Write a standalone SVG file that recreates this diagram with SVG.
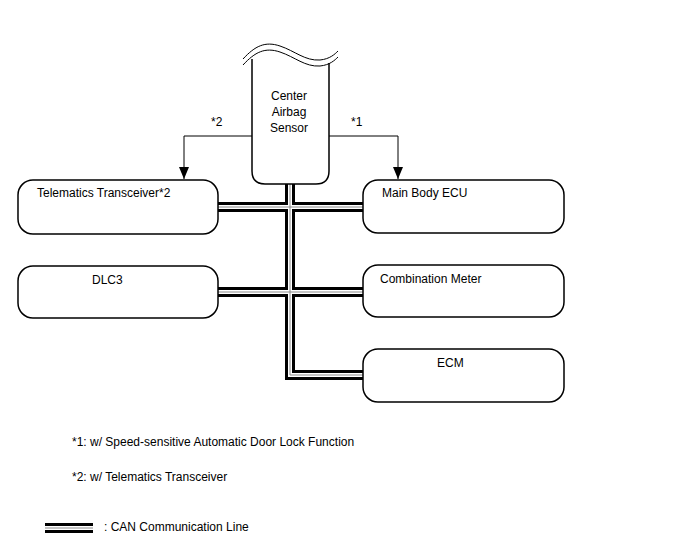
<svg xmlns="http://www.w3.org/2000/svg" width="688" height="560" viewBox="0 0 688 560">
<style>
.box{fill:#fff;stroke:#000;stroke-width:1.5}
.t{font-family:"Liberation Sans",Arial,sans-serif;font-size:12px;fill:#000}
.w1{fill:none;stroke:#000;stroke-width:10}
.w2{fill:none;stroke:#fff;stroke-width:4}
.w3{fill:none;stroke:#888;stroke-width:1}
.ln{fill:none;stroke:#000;stroke-width:1}
</style>
<defs>
<marker id="ah" markerWidth="12" markerHeight="10" refX="12" refY="5" orient="auto" markerUnits="userSpaceOnUse" viewBox="0 0 12 10">
<path d="M0,0 L12,5 L0,10 Z" fill="#000"/>
</marker>
</defs>
<rect width="688" height="560" fill="#fff"/>
<g id="connectors">
<path class="w1" d="M290,181 V375 H364 M217,207 H364 M217,292 H364"/>
<path class="w2" d="M290,181 V375 H364 M217,207 H364 M217,292 H364"/>
<path class="w3" d="M290,181 V375 H364 M217,207 H364 M217,292 H364"/>
<path class="ln" d="M252,136 H184 V179" marker-end="url(#ah)"/>
<path class="ln" d="M328,136 H398 V179" marker-end="url(#ah)"/>
<text class="t" x="211" y="126">*2</text>
<text class="t" x="351" y="126">*1</text>
</g>
<g id="center-airbag-sensor">
<path class="box" d="M252,59 V171 Q252,184 265,184 H316 Q329,184 329,171 V63"/>
<path class="ln" stroke-width="1.2" d="M243,65 C255,52 265,47 280,52 C295,57 305,67 320,66 C330,65 335,60 338,57"/>
<path class="ln" stroke-width="1.2" d="M243,59 C255,46 265,41 280,46 C295,51 305,61 320,60 C330,59 335,54 338,51"/>
<text class="t" x="289" y="100" text-anchor="middle">Center</text>
<text class="t" x="289" y="116" text-anchor="middle">Airbag</text>
<text class="t" x="289" y="132" text-anchor="middle">Sensor</text>
</g>
<g id="telematics-transceiver">
<rect class="box" x="18" y="180" width="200" height="54" rx="15"/>
<text class="t" x="37" y="197">Telematics Transceiver*2</text>
</g>
<g id="dlc3">
<rect class="box" x="18" y="266" width="200" height="52" rx="15"/>
<text class="t" x="92" y="284">DLC3</text>
</g>
<g id="main-body-ecu">
<rect class="box" x="363" y="180" width="201" height="53" rx="15"/>
<text class="t" x="382" y="197">Main Body ECU</text>
</g>
<g id="combination-meter">
<rect class="box" x="363" y="265" width="201" height="52" rx="15"/>
<text class="t" x="380" y="283">Combination Meter</text>
</g>
<g id="ecm">
<rect class="box" x="363" y="349" width="201" height="53" rx="15"/>
<text class="t" x="437" y="367">ECM</text>
</g>
<g id="legend">
<text class="t" x="72" y="446">*1: w/ Speed-sensitive Automatic Door Lock Function</text>
<text class="t" x="72" y="481">*2: w/ Telematics Transceiver</text>
<path class="w1" d="M45,528 H93"/>
<path class="w2" d="M45,528 H93"/>
<path class="w3" d="M45,528 H93"/>
<text class="t" x="104" y="531">: CAN Communication Line</text>
</g>
</svg>
